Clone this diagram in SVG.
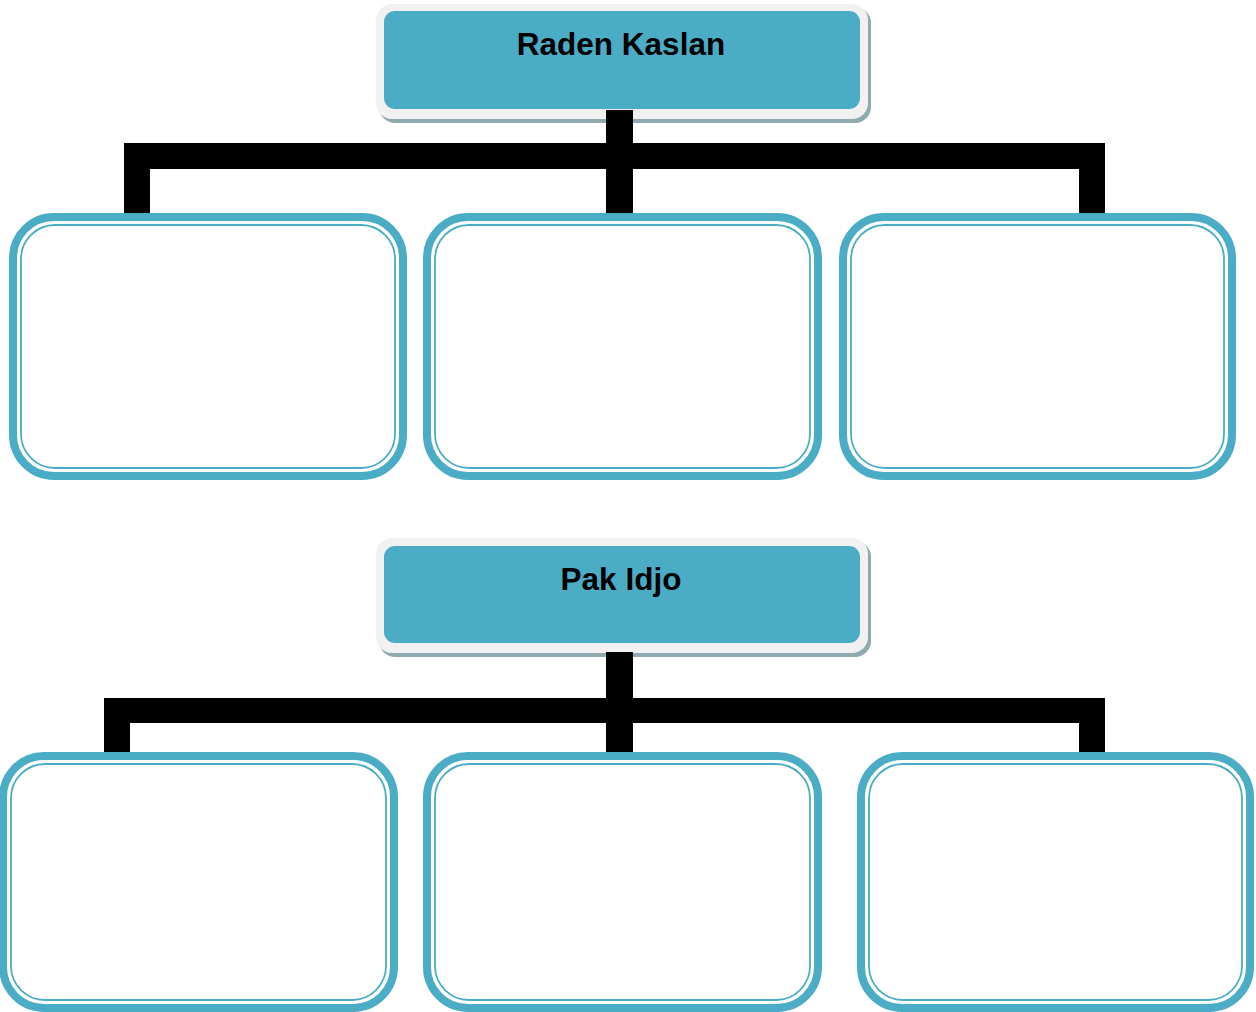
<svg xmlns="http://www.w3.org/2000/svg" width="1256" height="1012" viewBox="0 0 1256 1012">
<style>
.shadow{fill:#8fa9b1}
.frame{fill:#f1f1f1}
.head{fill:#4bacc6}
.title{font-family:"Liberation Sans",Arial,sans-serif;font-weight:bold;font-size:31.5px;fill:#000;text-anchor:middle}
.outer{fill:#fff;stroke:#4bacc6;stroke-width:8}
.inner{fill:none;stroke:#4bacc6;stroke-width:1.8}
.conn{fill:#000}
</style>
<rect width="1256" height="1012" fill="#fff"/>
<g id="connectors">
  <rect class="conn" x="606" y="110" width="27" height="104"/>
  <rect class="conn" x="124" y="143" width="981" height="26"/>
  <rect class="conn" x="124" y="143" width="26" height="71"/>
  <rect class="conn" x="1079" y="143" width="26" height="71"/>
  <rect class="conn" x="606" y="652" width="27" height="101"/>
  <rect class="conn" x="104" y="698" width="1001" height="25"/>
  <rect class="conn" x="104" y="698" width="26" height="55"/>
  <rect class="conn" x="1079" y="698" width="26" height="55"/>
</g>
<g id="head-raden-kaslan">
  <rect class="shadow" x="379" y="7" width="492" height="116" rx="16"/>
  <rect class="frame" x="376" y="4" width="492" height="115" rx="16"/>
  <rect class="head" x="384" y="11" width="476" height="98" rx="11"/>
  <text class="title" x="621" y="55">Raden Kaslan</text>
</g>
<rect class="conn" x="606" y="110" width="27" height="34"/>
<g id="box-1-1">
  <rect class="outer" x="13" y="217" width="390" height="259" rx="41"/>
  <rect class="inner" x="21" y="225" width="374" height="243" rx="34"/>
</g>
<g id="box-1-2">
  <rect class="outer" x="427" y="217" width="391" height="259" rx="41"/>
  <rect class="inner" x="435" y="225" width="375" height="243" rx="34"/>
</g>
<g id="box-1-3">
  <rect class="outer" x="843" y="217" width="389" height="259" rx="41"/>
  <rect class="inner" x="851" y="225" width="373" height="243" rx="34"/>
</g>
<g id="head-pak-idjo">
  <rect class="shadow" x="379" y="541" width="492" height="116" rx="16"/>
  <rect class="frame" x="376" y="538" width="492" height="115" rx="16"/>
  <rect class="head" x="384" y="546" width="476" height="97" rx="11"/>
  <text class="title" x="621" y="590">Pak Idjo</text>
</g>
<rect class="conn" x="606" y="652" width="27" height="47"/>
<g id="box-2-1">
  <rect class="outer" x="3" y="756" width="391" height="252" rx="41"/>
  <rect class="inner" x="11" y="764" width="375" height="236" rx="34"/>
</g>
<g id="box-2-2">
  <rect class="outer" x="427" y="756" width="391" height="252" rx="41"/>
  <rect class="inner" x="435" y="764" width="375" height="236" rx="34"/>
</g>
<g id="box-2-3">
  <rect class="outer" x="861" y="756" width="389" height="252" rx="41"/>
  <rect class="inner" x="869" y="764" width="373" height="236" rx="34"/>
</g>
</svg>
